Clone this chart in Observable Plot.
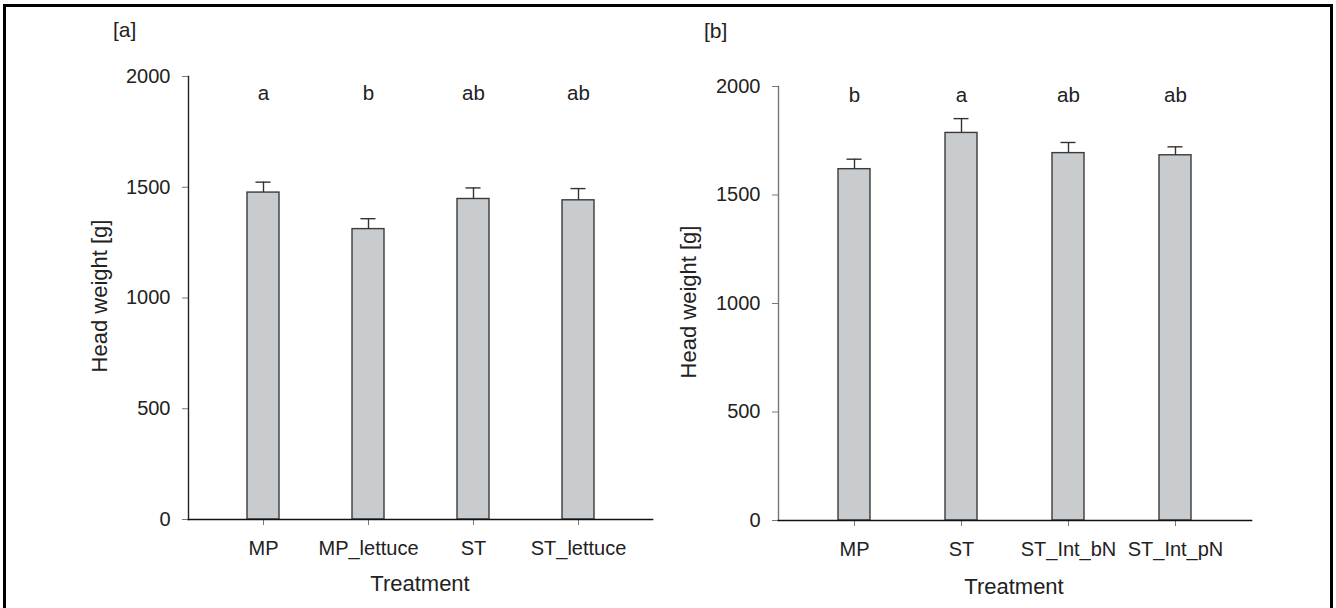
<!DOCTYPE html>
<html>
<head>
<meta charset="utf-8">
<script src="https://cdn.jsdelivr.net/npm/d3@7"></script>
<script src="https://cdn.jsdelivr.net/npm/@observablehq/plot@0.6"></script>
<style>
  html, body { margin: 0; padding: 0; background: #fff; }
  body { width: 1336px; height: 608px; overflow: hidden; position: relative; font-family: "Liberation Sans", Arial, sans-serif; color: #222; }
  #frame { position: absolute; left: 3px; top: 4px; width: 1324px; height: 640px; border: 3px solid #000; }
  .panel { position: absolute; top: 0; width: 668px; height: 608px; }
  .txt { position: absolute; white-space: nowrap; color: #222; font-family: "Liberation Sans", Arial, sans-serif; }
  .ylab { transform: translate(-50%, -50%) rotate(-90deg); font-size: 22px; }
  .xlab { transform: translate(-50%, -50%); font-size: 22px; }
  .tag { transform: translate(0, -50%); font-size: 21px; }
</style>
</head>
<body>
<div id="frame"></div>
<div id="pa" class="panel" style="left:0"></div>
<div id="pb" class="panel" style="left:668px"></div>
<div class="txt tag" style="left:113px; top:30px">[a]</div>
<div class="txt tag" style="left:704px; top:31px">[b]</div>
<div class="txt ylab" style="left:100px; top:296px">Head weight [g]</div>
<div class="txt ylab" style="left:689px; top:302px">Head weight [g]</div>
<div class="txt xlab" style="left:420px; top:584px">Treatment</div>
<div class="txt xlab" style="left:1014px; top:587px">Treatment</div>
<script>
// Panel [a]
const catsA = ["MP", "MP_lettuce", "ST", "ST_lettuce"];
const meanA = [1476, 1311, 1447, 1441];
const errA = [47, 47, 50, 53];
const lettersA = ["a", "b", "ab", "ab"];

// Panel [b]
const catsB = ["MP", "ST", "ST_Int_bN", "ST_Int_pN"];
const meanB = [1619, 1786, 1693, 1683];
const errB = [46, 66, 49, 39];
const lettersB = ["b", "a", "ab", "ab"];

const yTicks = [0, 500, 1000, 1500, 2000];

function panel(cats, means, errs, letters, letterY, m, yAxisColor) {
  const data = cats.map((c, i) => ({c, v: means[i], e: errs[i], l: letters[i]}));
  return Plot.plot({
    width: 668,
    height: 608,
    marginLeft: m.left,
    marginRight: m.right,
    marginTop: m.top,
    marginBottom: m.bottom,
    style: {fontFamily: "'Liberation Sans', Arial, sans-serif", color: "#222", background: "transparent", overflow: "visible"},
    x: {type: "band", domain: cats, paddingInner: 0.7, paddingOuter: 0.55, align: 0.5},
    y: {domain: [0, 2000]},
    marks: [
      Plot.barY(data, {x: "c", y: "v", fill: "#c9cccf", stroke: "#3a3a3a", strokeWidth: 1.4}),
      Plot.ruleX(data, {x: "c", y1: "v", y2: d => d.v + d.e, stroke: "#333", strokeWidth: 1.4}),
      Plot.tickY(data, {x: "c", y: d => d.v + d.e, stroke: "#333", strokeWidth: 1.4, insetLeft: 8.5, insetRight: 8.5}),
      Plot.text(data, {x: "c", y: () => letterY, text: "l", fontSize: 20.5, fill: "#222"}),
      Plot.axisY({ticks: yTicks, tickFormat: d => String(d), tickSize: 6, tickPadding: 12, fontSize: 20, stroke: "#777", fill: "#222", label: null}),
      Plot.axisX({tickSize: 6, tickPadding: 15, fontSize: 20, stroke: "#777", fill: "#222", label: null}),
      Plot.frame({anchor: "left", stroke: yAxisColor, strokeWidth: 1.4}),
      Plot.frame({anchor: "bottom", stroke: "#111", strokeWidth: 1.6})
    ]
  });
}

document.getElementById("pa").append(
  panel(catsA, meanA, errA, lettersA, 1925, {left: 188, right: 16, top: 76, bottom: 89}, "#222")
);
document.getElementById("pb").append(
  panel(catsB, meanB, errB, lettersB, 1960, {left: 110, right: 85, top: 86, bottom: 88}, "#777")
);
</script>
</body>
</html>
